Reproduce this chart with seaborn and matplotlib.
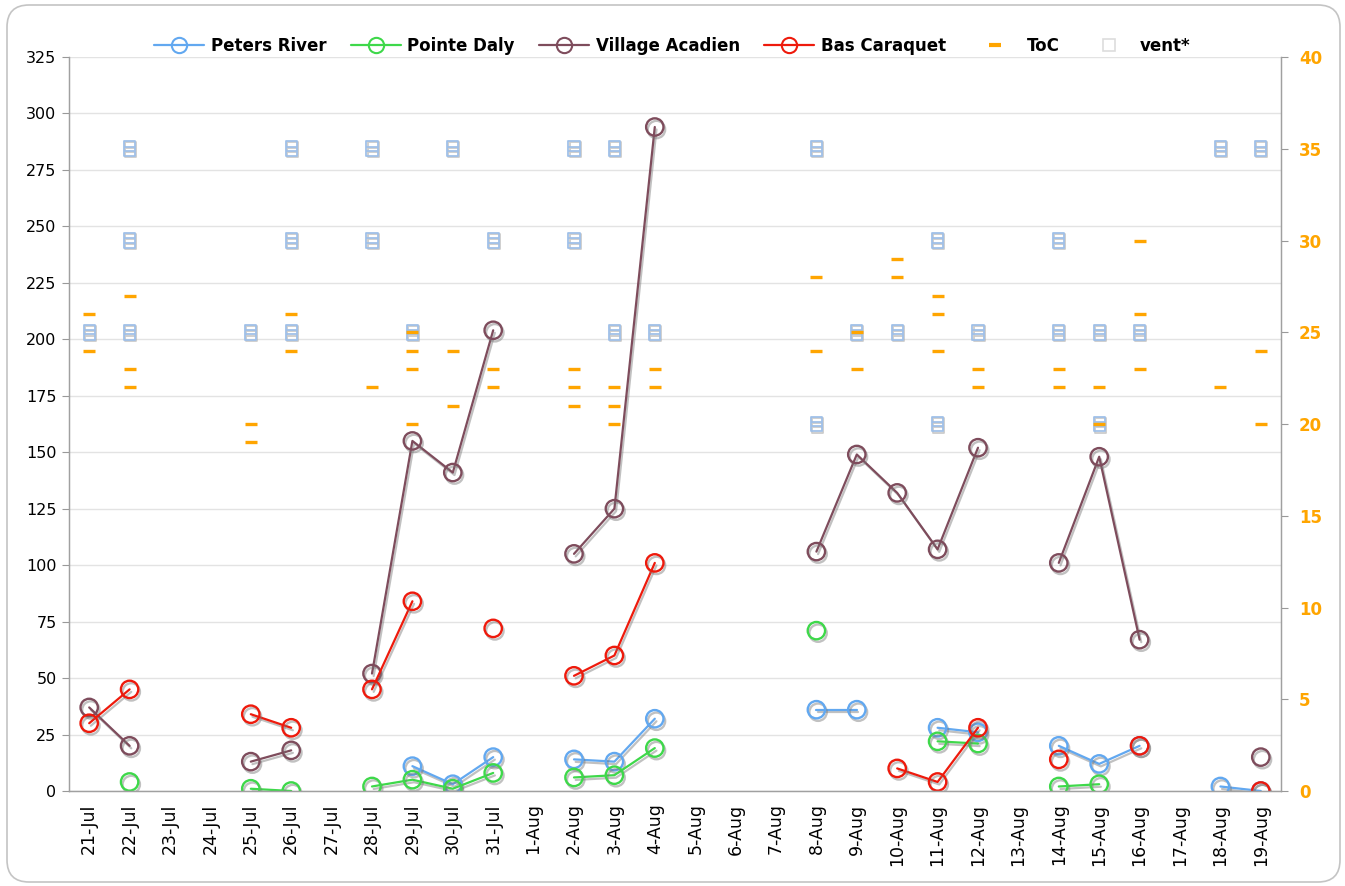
import numpy as np
import pandas as pd
import seaborn as sns
import matplotlib
matplotlib.use("Agg")
import matplotlib.pyplot as plt
import matplotlib.patheffects as pe
from matplotlib.lines import Line2D
from matplotlib.path import Path
from matplotlib.patches import FancyBboxPatch

# Data
dates = ['21-Jul', '22-Jul', '23-Jul', '24-Jul', '25-Jul', '26-Jul', '27-Jul',
         '28-Jul', '29-Jul', '30-Jul', '31-Jul', '1-Aug', '2-Aug', '3-Aug',
         '4-Aug', '5-Aug', '6-Aug', '7-Aug', '8-Aug', '9-Aug', '10-Aug',
         '11-Aug', '12-Aug', '13-Aug', '14-Aug', '15-Aug', '16-Aug', '17-Aug',
         '18-Aug', '19-Aug']
N = np.nan
peters_river = [N, N, N, N, N, N, N, N, 11, 3, 15, N, 14, 13, 32,
                N, N, N, 36, 36, N, 28, 26, N, 20, 12, 20, N, 2, 0]
pointe_daly = [N, 4, N, N, 1, 0, N, 2, 5, 1, 8, N, 6, 7, 19,
               N, N, N, 71, N, N, 22, 21, N, 2, 3, N, N, N, N]
village_acadien = [37, 20, N, N, 13, 18, N, 52, 155, 141, 204, N, 105, 125, 294,
                   N, N, N, 106, 149, 132, 107, 152, N, 101, 148, 67, N, N, 15]
bas_caraquet = [30, 45, N, N, 34, 28, N, 45, 84, N, 72, N, 51, 60, 101,
                N, N, N, N, N, 10, 4, 28, N, 14, N, 20, N, N, 0]

toc_day = ['21-Jul', '21-Jul', '22-Jul', '22-Jul', '22-Jul', '25-Jul', '25-Jul',
           '26-Jul', '26-Jul', '28-Jul', '29-Jul', '29-Jul', '29-Jul', '29-Jul',
           '30-Jul', '30-Jul', '31-Jul', '31-Jul', '2-Aug', '2-Aug', '2-Aug',
           '3-Aug', '3-Aug', '3-Aug', '4-Aug', '4-Aug', '8-Aug', '8-Aug',
           '9-Aug', '9-Aug', '10-Aug', '10-Aug', '11-Aug', '11-Aug', '11-Aug',
           '12-Aug', '12-Aug', '14-Aug', '14-Aug', '15-Aug', '15-Aug',
           '16-Aug', '16-Aug', '16-Aug', '18-Aug', '19-Aug', '19-Aug']
toc_val = [26, 24, 27, 23, 22, 20, 19,
           26, 24, 22, 25, 24, 23, 20,
           24, 21, 23, 22, 23, 22, 21,
           22, 21, 20, 23, 22, 28, 24,
           25, 23, 29, 28, 27, 26, 24,
           23, 22, 23, 22, 22, 20,
           30, 26, 23, 22, 24, 20]

vent_day = ['21-Jul', '22-Jul', '22-Jul', '22-Jul', '25-Jul', '26-Jul', '26-Jul',
            '26-Jul', '28-Jul', '28-Jul', '29-Jul', '30-Jul', '31-Jul', '2-Aug',
            '2-Aug', '3-Aug', '3-Aug', '4-Aug', '8-Aug', '8-Aug', '9-Aug',
            '10-Aug', '11-Aug', '11-Aug', '12-Aug', '14-Aug', '14-Aug',
            '15-Aug', '15-Aug', '16-Aug', '18-Aug', '19-Aug']
vent_val = [25, 35, 30, 25, 25, 35, 30,
            25, 35, 30, 25, 35, 30, 35,
            30, 35, 25, 25, 35, 20, 25,
            25, 30, 20, 25, 30, 25,
            25, 20, 25, 35, 35]

series = {'Peters River': peters_river, 'Pointe Daly': pointe_daly,
          'Village Acadien': village_acadien, 'Bas Caraquet': bas_caraquet}
colors = {'Peters River': '#62a8f0', 'Pointe Daly': '#3ed84a',
          'Village Acadien': '#7e4c5c', 'Bas Caraquet': '#ee1a0c'}
toc_color = '#ffa500'
vent_color = '#a0c0e8'

sns.set_theme(style='white')
plt.rcParams['font.family'] = ['DejaVu Sans']
plt.rcParams['text.color'] = 'black'

fig = plt.figure(figsize=(13.45, 8.86), dpi=100)
fig.patch.set_facecolor('white')
ax = fig.add_axes([69 / 1345, 1 - 791 / 886, 1212 / 1345, 734 / 886])
ax2 = ax.twinx()

pos = {d: i for i, d in enumerate(dates)}

# main series, broken where values are missing
shadow = [pe.SimpleLineShadow(offset=(1.2, -1.8), shadow_color='#777777', alpha=0.45),
          pe.Normal()]
for name, vals in series.items():
    v = pd.Series(vals, dtype=float)
    df = pd.DataFrame({'pos': range(len(dates)), 'val': v,
                       'seg': v.isna().cumsum()}).dropna()
    c = colors[name]
    sns.lineplot(data=df, x='pos', y='val', units='seg', estimator=None,
                 color=c, linewidth=1.6, marker='o', markersize=12.5,
                 markerfacecolor='none', markeredgecolor=c,
                 markeredgewidth=1.7, ax=ax)
for ln in ax.lines:
    ln.set_path_effects(shadow)

# right axis: ToC and vent*
vent_marker = Path(
    [(-0.75, -1), (0.75, -1), (0.75, 1), (-0.75, 1), (-0.75, -1),
     (-0.75, -0.3), (0.75, -0.3), (-0.75, 0.3), (0.75, 0.3)],
    [Path.MOVETO, Path.LINETO, Path.LINETO, Path.LINETO, Path.CLOSEPOLY,
     Path.MOVETO, Path.LINETO, Path.MOVETO, Path.LINETO])
vent_df = pd.DataFrame({'pos': [pos[d] for d in vent_day], 'val': vent_val})
sns.scatterplot(data=vent_df, x='pos', y='val', marker=vent_marker, s=115,
                color=vent_color, facecolor='none', edgecolor=vent_color,
                linewidth=1.3, ax=ax2)
ax2.collections[-1].set_path_effects(
    [pe.SimpleLineShadow(offset=(0.8, -0.8), shadow_color='#aaaaaa', alpha=0.6),
     pe.Normal()])

toc_df = pd.DataFrame({'pos': [pos[d] for d in toc_day], 'val': toc_val})
sns.scatterplot(data=toc_df, x='pos', y='val', marker='_', s=80,
                color=toc_color, linewidth=2.4, ax=ax2)

# axes styling
ax.set_xlim(-0.5, len(dates) - 0.5)
ax.set_ylim(0, 325)
ax2.set_ylim(0, 40)
ax.set(xlabel='', ylabel='')
ax2.set(xlabel='', ylabel='')

ax.set_yticks(range(0, 326, 25))
ax.yaxis.grid(True, color='#e3e3e3', linewidth=1)
ax.set_axisbelow(True)
ax.set_xticks(range(len(dates)))
ax.set_xticklabels(dates, rotation=90, fontsize=12.5, color='black')
ax.set_xticks(np.arange(-0.5, len(dates), 1), minor=True)
ax.tick_params(axis='x', which='major', length=0, pad=9)
ax.tick_params(axis='x', which='minor', length=6, width=0.8, color='#999999',
               direction='out')
ax.tick_params(axis='y', length=5, width=0.8, color='#999999', labelsize=11.5,
               labelcolor='black', pad=4, left=True)

ax2.set_yticks(range(0, 41, 5))
ax2.tick_params(axis='y', length=5, width=0.8, color='#999999', labelsize=12,
                labelcolor=toc_color, pad=8, right=True)
for t in ax2.get_yticklabels():
    t.set_fontweight('bold')

for a in (ax, ax2):
    for side in ('left', 'right', 'bottom'):
        a.spines[side].set_color('#a0a0a0')
        a.spines[side].set_linewidth(0.9)
    a.spines['top'].set_visible(False)

# legend
handles = [Line2D([], [], color=colors[n], linewidth=1.6, marker='o',
                  markersize=11, markerfacecolor='none',
                  markeredgecolor=colors[n], markeredgewidth=1.5)
           for n in series]
handles.append(Line2D([], [], linestyle='none', marker='_', markersize=9,
                      markeredgewidth=3, color=toc_color))
handles.append(Line2D([], [], linestyle='none', marker='s', markersize=8,
                      markerfacecolor='none', markeredgecolor='#dddddd',
                      markeredgewidth=1.2))
labels = list(series) + ['ToC', 'vent*']
leg = fig.legend(handles, labels, loc='center', bbox_to_anchor=(0.5, 1 - 46 / 886),
                 ncol=6, frameon=False, prop={'weight': 'bold', 'size': 12},
                 handlelength=3, handletextpad=0.4, columnspacing=1.45)
for t in leg.get_texts():
    t.set_color('black')

# rounded border around the chart
fig.patches.append(FancyBboxPatch((7, 4), 1333, 877,
                                  boxstyle='round,pad=0,rounding_size=22',
                                  transform=None, facecolor='none',
                                  edgecolor='#c4c4c4', linewidth=1.2))

fig.savefig('out.png', dpi=100)
